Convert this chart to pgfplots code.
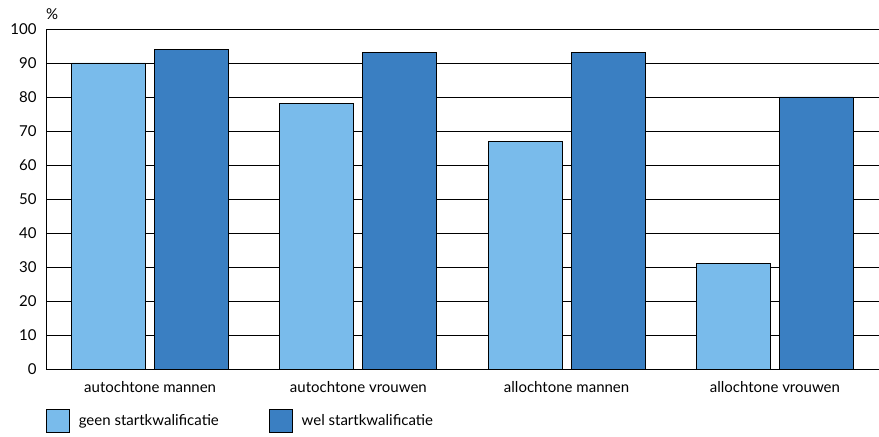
\documentclass[border=0pt]{standalone}
\usepackage{pgfplots}
\pgfplotsset{compat=1.18}
\usepackage{fontspec}
\setmainfont{Lato}
\definecolor{lightb}{RGB}{121,187,235}
\definecolor{darkb}{RGB}{58,127,194}
\begin{document}
\begin{tikzpicture}
\begin{axis}[
  name=ax,
  scale only axis,
  width=833pt, height=340pt,
  ybar=9pt, bar width=74pt,
  xmin=-0.5, xmax=3.5,
  ymin=0, ymax=100,
  ytick={0,10,...,100},
  xtick={0,1,2,3},
  xticklabels={autochtone mannen, autochtone vrouwen, allochtone mannen, allochtone vrouwen},
  major tick length=0pt,
  ymajorgrids,
  major grid style={black, line width=0.8pt},
  axis line style={black, line width=0.8pt},
  /pgf/number format/assume math mode=true,
  tick label style={font=\fontsize{15}{17}\selectfont},
  yticklabel style={xshift=-6pt},
  xticklabel style={yshift=-9pt},
  legend style={at={(rel axis cs:0,0)}, anchor=north west, yshift=-40pt, xshift=0pt,
    draw=none, inner sep=0pt, outer sep=0pt, font=\fontsize{15}{17}\selectfont,
    /tikz/every even column/.append style={column sep=48pt}},
  legend columns=2,
  legend image code/.code={\draw[#1, draw=black, line width=0.8pt] (0pt,-11.5pt) rectangle (23pt,11.5pt);},
  legend cell align=left,
  clip=false,
]
\addplot[fill=lightb, draw=black, line width=0.8pt] coordinates {(0,90) (1,78) (2,67) (3,31)};
\addplot[fill=darkb, draw=black, line width=0.8pt] coordinates {(0,94) (1,93) (2,93) (3,80)};
\legend{\hspace{7pt}geen startkwalificatie, \hspace{7pt}wel startkwalificatie}
\node[anchor=south west, font=\fontsize{15}{17}\selectfont, inner sep=0pt] at ([yshift=9pt]rel axis cs:0,1) {\%};
\end{axis}
\pgfresetboundingbox
\path ([xshift=-46pt,yshift=-67pt]ax.south west) rectangle ([yshift=29pt]ax.north east);
\end{tikzpicture}
\end{document}
